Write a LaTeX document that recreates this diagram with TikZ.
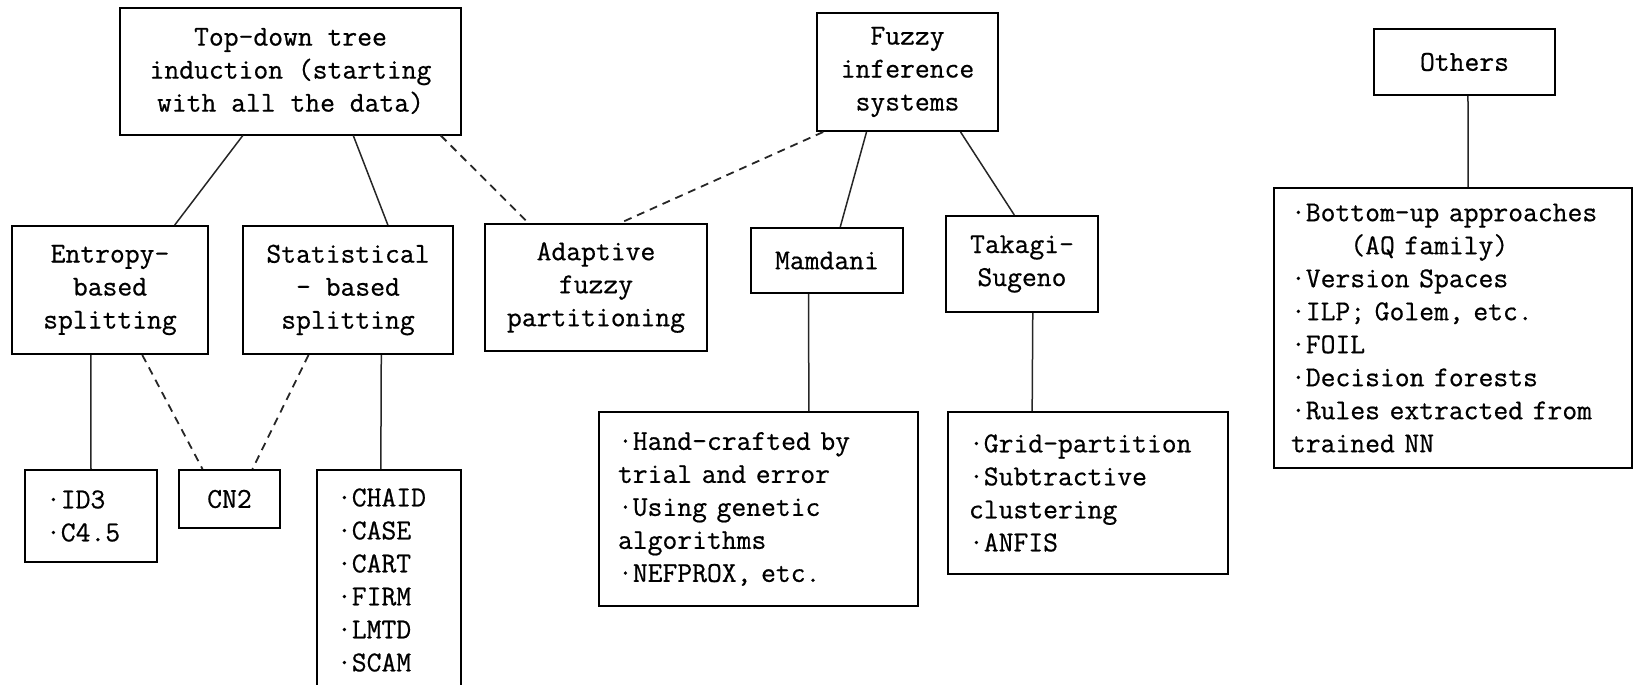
\documentclass[tikz,border=0pt]{standalone}
\usepackage{fontspec}
\setmainfont[FakeBold=0.6]{Latin Modern Mono}
\usetikzlibrary{calc}
% one unit = one pixel of the 1634 x 685 sheet, y grows downwards
\tikzset{
  txt/.style={font=\fontsize{14.4}{16.5}\selectfont},
  box/.style={draw, line width=1pt, inner sep=0pt, align=center, txt},
  sz/.style 2 args={minimum width=#1*0.5pt, minimum height=#2*0.5pt},
  listbox/.style={draw, line width=1pt, inner ysep=0pt, align=left, txt},
  link/.style={line width=0.75pt, draw=black!85},
  dlink/.style={link, line width=0.9pt, dash pattern=on 4pt off 3pt},
}
\begin{document}
\begin{tikzpicture}[x=0.5pt, y=-0.5pt]
\useasboundingbox (0,0) rectangle (1634,685);

% upper row
\node[box, sz={341}{127}] (top) at (290.5,71) {Top-down tree\\induction (starting\\with all the data)};
\node[box, sz={181}{118}] (fuzzy) at (907.5,72) {Fuzzy\\inference\\systems};
\node[box, sz={181}{66}] (oth) at (1464.5,62) {Others};

% second row
\node[box, sz={196}{128}] (ent) at (110,290) {Entropy-\\based\\splitting};
\node[box, sz={210}{128}] (stat) at (348,290) {Statistical\\- based\\splitting};
\node[box, sz={222}{127}] (adapt) at (596,287.5) {Adaptive\\fuzzy\\partitioning};
\node[box, sz={152}{65}] (mam) at (827,260.5) {Mamdani};
\node[box, sz={152}{96}] (tak) at (1022,264) {Takagi-\\Sugeno};
\node[listbox, sz={358}{280}, inner xsep=8.5pt, text width=162pt] (olist) at (1453,328)
  {·Bottom-up approaches\\\phantom{AAAA}(AQ family)\\·Version Spaces\\·ILP; Golem, etc.\\·FOIL\\·Decision forests\\·Rules extracted from\\trained NN};

% bottom row
\node[listbox, sz={132}{92}, inner xsep=10.5pt, text width=45pt] (id3) at (91,516) {·ID3\\·C4.5};
\node[box, sz={101}{58}] (cn2) at (229.5,499) {CN2};
\node[listbox, sz={144}{220}, inner xsep=10pt, text width=52pt] (chaid) at (389,580)
  {·CHAID\\·CASE\\·CART\\·FIRM\\·LMTD\\·SCAM};
\node[listbox, sz={319}{194}, inner xsep=9.5pt, text width=140.5pt] (hand) at (758.5,509)
  {·Hand-crafted by\\trial and error\\·Using genetic\\algorithms\\·NEFPROX, etc.};
\node[listbox, sz={280}{162}, inner xsep=10.5pt, text width=119pt] (grid) at (1088,493)
  {·Grid-partition\\·Subtractive\\clustering\\·ANFIS};

% solid links
\draw[link] ($(top.south west)!.361!(top.south east)$) -- ($(ent.north west)!.827!(ent.north east)$);
\draw[link] ($(top.south west)!.683!(top.south east)$) -- ($(stat.north west)!.688!(stat.north east)$);
\draw[link] ($(fuzzy.south west)!.276!(fuzzy.south east)$) -- ($(mam.north west)!.586!(mam.north east)$);
\draw[link] ($(fuzzy.south west)!.79!(fuzzy.south east)$) -- ($(tak.north west)!.45!(tak.north east)$);
\draw[link] ($(oth.south west)!.519!(oth.south east)$) -- ($(olist.north west)!.542!(olist.north east)$);
\draw[link] ($(ent.south west)!.403!(ent.south east)$) -- ($(id3.north west)!.5!(id3.north east)$);
\draw[link] ($(stat.south west)!.657!(stat.south east)$) -- ($(chaid.north west)!.444!(chaid.north east)$);
\draw[link] ($(mam.south west)!.38!(mam.south east)$) -- ($(hand.north west)!.657!(hand.north east)$);
\draw[link] ($(tak.south west)!.57!(tak.south east)$) -- ($(grid.north west)!.302!(grid.north east)$);

% dashed links
\draw[dlink] ($(top.south west)!.938!(top.south east)$) -- ($(adapt.north west)!.198!(adapt.north east)$);
\draw[dlink] ($(fuzzy.south west)!.039!(fuzzy.south east)$) -- ($(adapt.north west)!.608!(adapt.north east)$);
\draw[dlink] ($(ent.south west)!.663!(ent.south east)$) -- ($(cn2.north west)!.238!(cn2.north east)$);
\draw[dlink] ($(stat.south west)!.314!(stat.south east)$) -- ($(cn2.north west)!.723!(cn2.north east)$);
\end{tikzpicture}
\end{document}
